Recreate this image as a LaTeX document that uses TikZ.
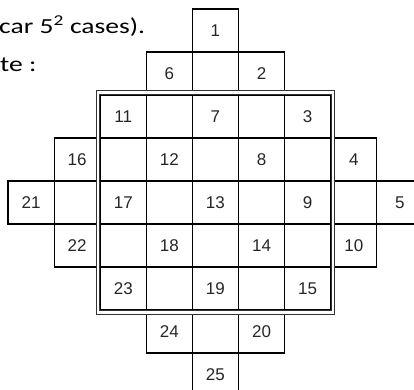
\documentclass[tikz,border=0pt]{standalone}
\usepackage{fontspec}
\setmainfont{Carlito}
\newfontfamily\introfont[FakeStretch=1.28]{Carlito}
\newfontfamily\cellfont{Liberation Sans}
\usetikzlibrary{positioning}

\begin{document}
\begin{tikzpicture}[
        cell/.style={rectangle, draw=black, line width=1.2pt, inner sep=0pt,
                     minimum width=46.1pt, minimum height=43pt},
        number/.style={font=\cellfont\fontsize{17}{17}\selectfont, text=black!85},
        frame/.style={draw=black!80, double, line width=1pt, double distance=2.4pt},
        intro/.style={anchor=base west, inner sep=0pt, font=\introfont\fontsize{21.5}{26}\selectfont},
        x=1pt, y=1pt
    ]
    \useasboundingbox (0,0) rectangle (414,-389);

    % text on the left, cut by the page
    \node[intro] (cases) at (-1,-33.5) {car 5\textsuperscript{2} cases).};
    \node[intro] (colon) at (0,-71) {te :};

    % diamond of cells: all cells with |r-4|+|c-4| <= 4
    \foreach \r in {0,...,8} {
        \foreach \c in {0,...,8} {
            \pgfmathtruncatemacro{\dist}{abs(\r-4)+abs(\c-4)}
            \ifnum\dist<5
                \node[cell] (cell-\r-\c) at ({8+46.1*(\c+0.5)}, {-(9+43*(\r+0.5))}) {};
            \fi
        }
    }

    % numbers 1..25 on the turned square
    \foreach \i in {0,...,4} {
        \foreach \j in {0,...,4} {
            \pgfmathtruncatemacro{\num}{5*\i+\j+1}
            \pgfmathtruncatemacro{\rr}{\i+\j}
            \pgfmathtruncatemacro{\cc}{4+\j-\i}
            \node[number] (num-\num) at (cell-\rr-\cc) {\num};
        }
    }

    % double frame round the inner 5x5 square
    \draw[frame] ([shift={(-1.8,1.8)}]cell-2-2.north west) rectangle ([shift={(1.8,-1.8)}]cell-6-6.south east);

\end{tikzpicture}
\end{document}
